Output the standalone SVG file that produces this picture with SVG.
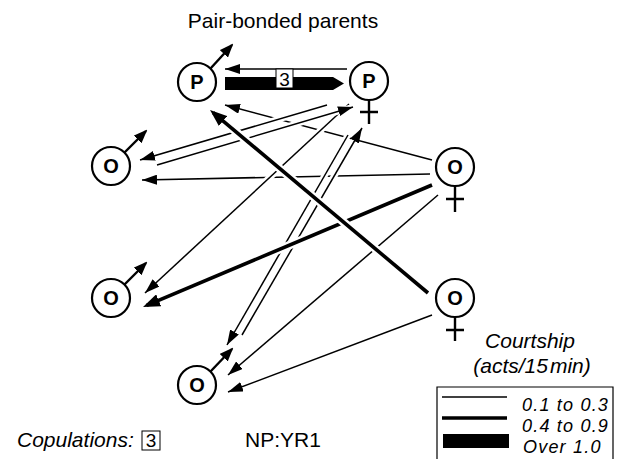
<svg xmlns="http://www.w3.org/2000/svg" width="619" height="459" viewBox="0 0 619 459">
<style>
text{font-family:"Liberation Sans",Arial,sans-serif;fill:#000}
.lbl{font-size:20px;font-weight:bold;text-anchor:middle}
.ring{fill:#fff;stroke:#000;stroke-width:2.2}
.sym{stroke:#000;stroke-width:2.4;fill:none}
.halo{fill:none;stroke:#fff}
.th{fill:none;stroke:#000;stroke-width:1.5}
.tk{fill:none;stroke:#000;stroke-width:3.6}
.hth{stroke-width:6.5}
.htk{stroke-width:8.5}
.it{font-style:italic;font-size:21px}
.lg{font-style:italic;font-size:18px;letter-spacing:1.2px}
</style>
<defs>
<marker id="at" markerUnits="userSpaceOnUse" viewBox="0 0 15 10" markerWidth="15" markerHeight="10" refX="15" refY="5" orient="auto"><path d="M0,0 L15,5 L0,10 z" fill="#000"/></marker>
<marker id="ak" markerUnits="userSpaceOnUse" viewBox="0 0 17 13" markerWidth="17" markerHeight="13" refX="13" refY="6.5" orient="auto"><path d="M0,0 L17,6.5 L0,13 z" fill="#000"/></marker>
<marker id="am" markerUnits="userSpaceOnUse" viewBox="0 0 14 11" markerWidth="14" markerHeight="11" refX="12" refY="5.5" orient="auto"><path d="M0,0 L14,5.5 L0,11 z" fill="#000"/></marker>
</defs>
<rect width="619" height="459" fill="#fff"/>
<text x="283" y="28" font-size="21" text-anchor="middle">Pair-bonded parents</text>

<g id="connectors">
  <!-- Of1 -> Pm -->
  <path class="halo hth" d="M432,160 L225,105"/>
  <path class="th" d="M432,160 L225,105" marker-end="url(#at)"/>
  <!-- Of1 -> Om1 -->
  <path class="halo hth" d="M430,174 L142,180"/>
  <path class="th" d="M430,174 L142,180" marker-end="url(#at)"/>
  <!-- Pf -> Om2 -->
  <path class="halo hth" d="M349,104 L145,293"/>
  <path class="th" d="M349,104 L145,293" marker-end="url(#at)"/>
  <!-- Pf -> Om1 -->
  <path class="halo hth" d="M327,105 L140,160"/>
  <path class="th" d="M327,105 L140,160" marker-end="url(#at)"/>
  <!-- Om1 -> Pf -->
  <path class="halo hth" d="M157,165 L353,107"/>
  <path class="th" d="M157,165 L353,107" marker-end="url(#at)"/>
  <!-- Pf -> Om3 -->
  <path class="halo hth" d="M348,135 L227,345"/>
  <path class="th" d="M348,135 L227,345" marker-end="url(#at)"/>
  <!-- Om3 -> Pf -->
  <path class="halo hth" d="M242,335 L362,128"/>
  <path class="th" d="M242,335 L362,128" marker-end="url(#at)"/>
  <!-- Of1 -> Om3 -->
  <path class="halo hth" d="M438,195 L228,375"/>
  <path class="th" d="M438,195 L228,375" marker-end="url(#at)"/>
  <!-- Of2 -> Om3 -->
  <path class="halo hth" d="M432,315 L228,392"/>
  <path class="th" d="M432,315 L228,392" marker-end="url(#at)"/>
  <!-- Of1 -> Om2 (0.4-0.9) -->
  <path class="halo htk" d="M432,185 L146.7,305.4"/>
  <path class="tk" d="M432,185 L146.7,305.4" marker-end="url(#ak)"/>
  <!-- Of2 -> Pm (0.4-0.9) -->
  <path class="halo htk" d="M428,293 L213.1,112.6"/>
  <path class="tk" d="M428,293 L213.1,112.6" marker-end="url(#ak)"/>
  <!-- Pf -> Pm thin -->
  <path class="th" d="M347,69 L225,69" marker-end="url(#at)"/>
  <!-- Pm -> Pf over 1.0 -->
  <polygon points="225,77 333,77 344,83.5 333,90 225,90" fill="#000"/>
  <rect x="276" y="69" width="17" height="19" fill="#fff" stroke="#000" stroke-width="1"/>
  <text x="284.5" y="86" font-size="19" text-anchor="middle">3</text>
</g>

<g id="node-pm">
  <path class="sym" d="M210.5,68.5 L232,45" marker-end="url(#am)"/>
  <circle class="ring" cx="197" cy="82" r="19"/>
  <text class="lbl" x="197" y="89">P</text>
</g>
<g id="node-pf">
  <path class="sym" d="M369,100 V124 M360,112 H378"/>
  <circle class="ring" cx="369" cy="81" r="19"/>
  <text class="lbl" x="369" y="88">P</text>
</g>
<g id="node-om1">
  <path class="sym" d="M124.5,152.5 L146,131" marker-end="url(#am)"/>
  <circle class="ring" cx="111" cy="166" r="19"/>
  <text class="lbl" x="111" y="173">O</text>
</g>
<g id="node-of1">
  <path class="sym" d="M455,186 V212 M446,199 H464"/>
  <circle class="ring" cx="455" cy="167" r="19"/>
  <text class="lbl" x="455" y="174">O</text>
</g>
<g id="node-om2">
  <path class="sym" d="M124.5,284.5 L146,263" marker-end="url(#am)"/>
  <circle class="ring" cx="111" cy="298" r="19"/>
  <text class="lbl" x="111" y="305">O</text>
</g>
<g id="node-of2">
  <path class="sym" d="M455,317 V341 M446,330 H464"/>
  <circle class="ring" cx="455" cy="298" r="19"/>
  <text class="lbl" x="455" y="305">O</text>
</g>
<g id="node-om3">
  <path class="sym" d="M210.5,371.5 L232,349" marker-end="url(#am)"/>
  <circle class="ring" cx="197" cy="385" r="19"/>
  <text class="lbl" x="197" y="392">O</text>
</g>

<g id="legend">
  <text class="it" x="530" y="348" text-anchor="middle">Courtship</text>
  <text class="it" x="532" y="373" text-anchor="middle">(acts/15<tspan dx="2">min)</tspan></text>
  <path d="M437,459 V387 H613 V459" fill="none" stroke="#000" stroke-width="1.2"/>
  <path d="M442,397 H507" stroke="#000" stroke-width="1.5"/>
  <path d="M442,418 H507" stroke="#000" stroke-width="3.6"/>
  <rect x="443" y="434" width="66" height="14" fill="#000"/>
  <text class="lg" x="522" y="411">0.1 to 0.3</text>
  <text class="lg" x="522" y="432">0.4 to 0.9</text>
  <text class="lg" x="523" y="453">Over 1.0</text>
</g>

<g id="footer">
  <text class="it" x="17" y="447">Copulations:</text>
  <rect x="142" y="431" width="18" height="19" fill="#fff" stroke="#000" stroke-width="1"/>
  <text x="151" y="447" font-size="19" text-anchor="middle">3</text>
  <text x="245" y="447" font-size="21">NP:YR1</text>
</g>
</svg>
